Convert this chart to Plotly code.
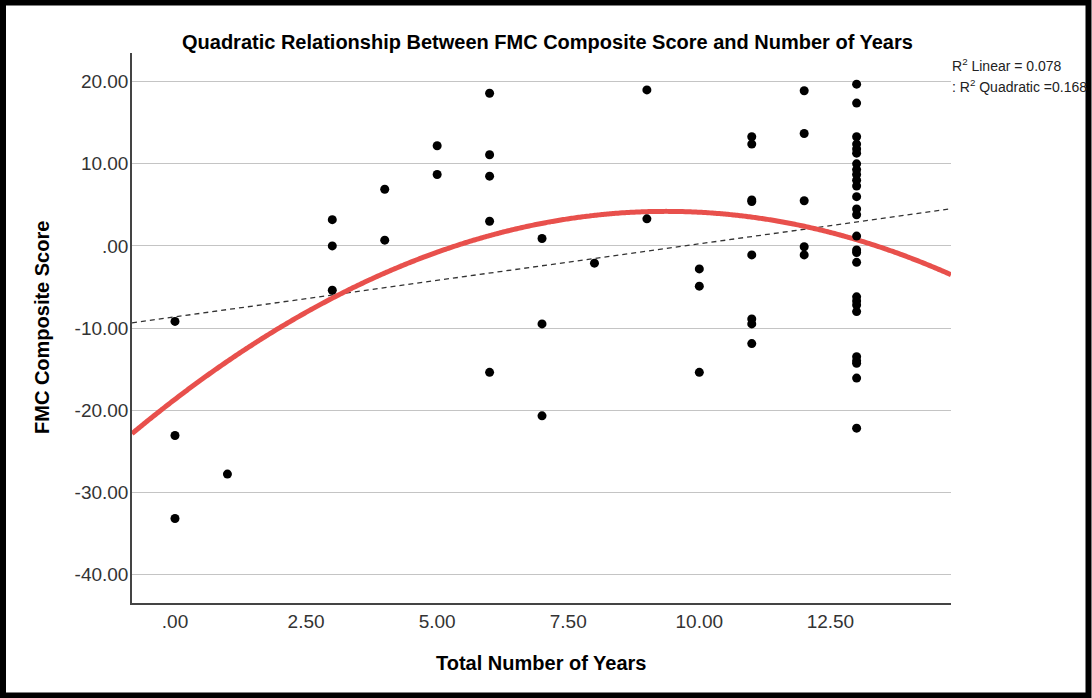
import numpy as np
import plotly.graph_objects as go

# ---- data ----
years = ([0]*3 + [1] + [3]*3 + [4]*2 + [5]*2 + [6]*5 + [7]*3 + [8] + [9]*2 +
         [10]*3 + [11]*8 + [12]*5 + [13]*27)
scores = [
    -9.2, -23.1, -33.2,                      # 0
    -27.8,                                   # 1
    3.2, 0.0, -5.4,                          # 3
    6.9, 0.7,                                # 4
    12.2, 8.7,                               # 5
    18.6, 11.1, 8.5, 3.0, -15.4,             # 6
    0.9, -9.5, -20.7,                        # 7
    -2.1,                                    # 8
    19.0, 3.3,                               # 9
    -2.8, -4.9, -15.4,                       # 10
    13.3, 12.4, 5.6, 5.4, -1.1, -8.9, -9.5, -11.9,   # 11
    18.9, 13.7, 5.5, -0.1, -1.1,             # 12
    19.7, 17.4, 13.3, 12.4, 11.8, 11.3, 10.0, 9.3, 8.7, 8.0, 7.3, 6.0,
    4.5, 3.8, 1.2, -0.5, -0.8, -2.0, -6.2, -6.7, -7.2, -8.0,
    -13.5, -14.0, -14.3, -16.1, -22.2,       # 13
]

x_ticks = [0, 2.5, 5, 7.5, 10, 12.5]
x_labels = [".00", "2.50", "5.00", "7.50", "10.00", "12.50"]
y_ticks = [20, 10, 0, -10, -20, -30, -40]
y_labels = ["20.00", "10.00", ".00", "-10.00", "-20.00", "-30.00", "-40.00"]

title = "Quadratic Relationship Between FMC Composite Score and Number of Years"
r2_linear = "0.078"
r2_quad = "0.168"

X_RANGE = [-0.82, 14.8]
Y_RANGE = [-43.5, 23.5]

# ---- fits from the data ----
xa = np.array(years, dtype=float)
ya = np.array(scores, dtype=float)
lin = np.polyfit(xa, ya, 1)
quad = np.polyfit(xa, ya, 2)
xf = np.linspace(X_RANGE[0], X_RANGE[1], 300)

FONT = "Arial, Liberation Sans, sans-serif"

fig = go.Figure()
fig.add_trace(go.Scatter(x=xf, y=np.polyval(lin, xf), mode="lines",
                         line=dict(color="#333333", width=1.3, dash="5px,4px"),
                         hoverinfo="skip"))
fig.add_trace(go.Scatter(x=xf, y=np.polyval(quad, xf), mode="lines",
                         line=dict(color="#e8504c", width=5, shape="spline"),
                         hoverinfo="skip"))
fig.add_trace(go.Scatter(x=years, y=scores, mode="markers",
                         marker=dict(color="black", size=9)))

L, R, T, B = 132, 141, 53, 95
W, H = 1092, 698
PW, PH = W - L - R, H - T - B

def px(xp):
    return (xp - L) / PW

def py(yp):
    return (H - B - yp) / PH

fig.update_layout(
    width=W, height=H,
    margin=dict(l=L, r=R, t=T, b=B, pad=0),
    paper_bgcolor="white", plot_bgcolor="white",
    showlegend=False,
    font=dict(family=FONT, color="#333333"),
    xaxis=dict(range=X_RANGE, tickvals=x_ticks, ticktext=x_labels,
               showgrid=False, zeroline=False, showline=True,
               linecolor="#444444", linewidth=1.5, ticks="",
               tickfont=dict(size=19, color="#333333"), ticklabelstandoff=0),
    yaxis=dict(range=Y_RANGE, tickvals=y_ticks, ticktext=y_labels,
               showgrid=True, gridcolor="#c4c4c4", gridwidth=1,
               zeroline=False, showline=True,
               linecolor="#444444", linewidth=1.5, ticks="",
               tickfont=dict(size=19, color="#333333"), ticklabelstandoff=-2),
    annotations=[
        dict(text="<b>" + title + "</b>", x=px(547), y=py(42), xref="paper", yref="paper",
             showarrow=False, xanchor="center", yanchor="middle",
             font=dict(size=20, color="#000000", family=FONT)),
        dict(text="<b>Total Number of Years</b>", x=px(541), y=py(663),
             xref="paper", yref="paper", showarrow=False,
             xanchor="center", yanchor="middle",
             font=dict(size=20, color="#000000", family=FONT)),
        dict(text="<b>FMC Composite Score</b>", x=px(42), y=py(328),
             xref="paper", yref="paper", showarrow=False, textangle=-90,
             xanchor="center", yanchor="middle",
             font=dict(size=20, color="#000000", family=FONT)),
        dict(text="R<sup>2</sup> Linear = " + r2_linear, x=px(950), y=py(65),
             xref="paper", yref="paper", showarrow=False,
             xanchor="left", yanchor="middle",
             font=dict(size=14, color="#222222", family=FONT)),
        dict(text=": R<sup>2</sup> Quadratic =" + r2_quad, x=px(950), y=py(86),
             xref="paper", yref="paper", showarrow=False,
             xanchor="left", yanchor="middle",
             font=dict(size=14, color="#222222", family=FONT)),
    ],
    shapes=[
        dict(type="rect", xref="paper", yref="paper",
             x0=px(3), x1=px(1088.5), y0=py(695.5), y1=py(2.5),
             line=dict(color="black", width=6), fillcolor="rgba(0,0,0,0)",
             layer="above"),
    ],
)

fig.write_html("out.html")
